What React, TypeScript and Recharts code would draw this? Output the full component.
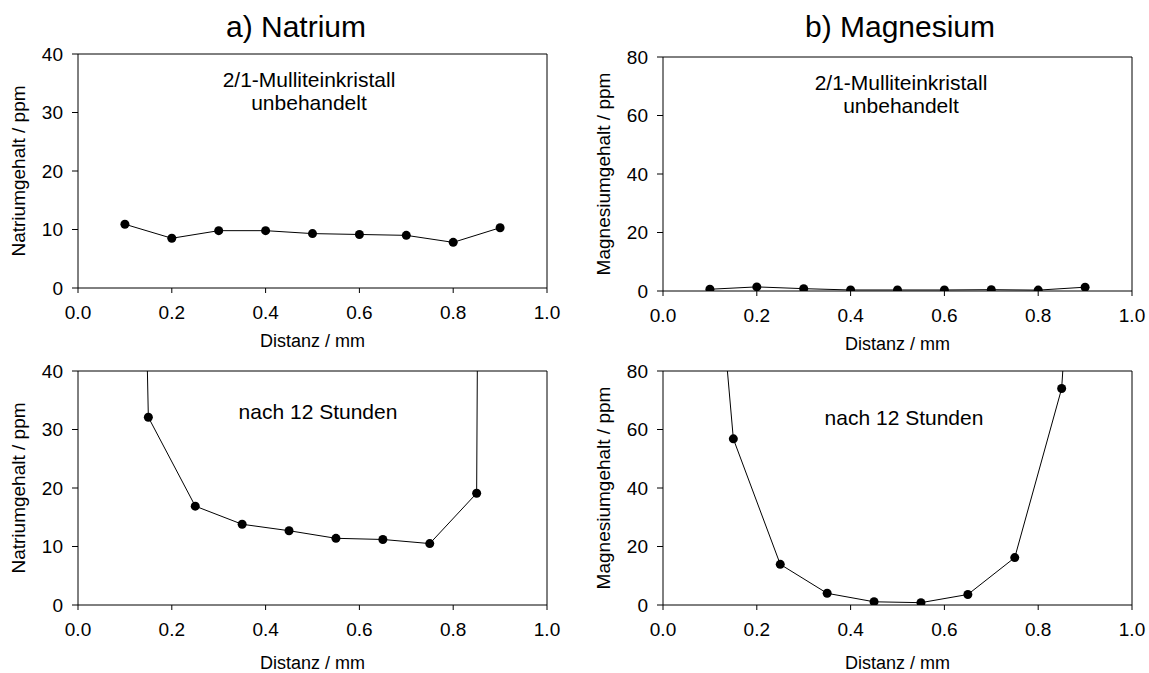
import React from 'react';
import { LineChart, Line, XAxis, YAxis, ReferenceLine } from 'recharts';

// Messpunkte (Distanz in mm)
const distTop = [0.1, 0.2, 0.3, 0.4, 0.5, 0.6, 0.7, 0.8, 0.9];
const natriumTop = [10.9, 8.5, 9.8, 9.8, 9.3, 9.15, 9.0, 7.8, 10.3];
const magnesiumTop = [0.6, 1.4, 0.8, 0.35, 0.35, 0.35, 0.45, 0.3, 1.3];

// nach 12 Stunden – Randwerte liegen weit über der Skala
const distBottom = [0.05, 0.15, 0.25, 0.35, 0.45, 0.55, 0.65, 0.75, 0.85, 0.95];
const natriumBottom = [420, 32.1, 16.9, 13.8, 12.7, 11.4, 11.2, 10.5, 19.1, 1500];
const magnesiumBottom = [240, 56.8, 13.9, 4.0, 1.1, 0.8, 3.6, 16.2, 74, 320];

const xTicks = [0, 0.2, 0.4, 0.6, 0.8, 1.0];
const naTicks = [0, 10, 20, 30, 40];
const mgTicks = [0, 20, 40, 60, 80];

const FONT = '"Liberation Sans", Arial, Helvetica, sans-serif';

// Platz um die Plotfläche innerhalb eines Diagramms
const LEFT = 78;
const TOP = 50;
const BOTTOM = 70;
const RIGHT = 20;
const Y_AXIS_W = 64;

interface PanelProps {
  px: number;
  py: number;
  pw: number;
  ph: number;
  xs: number[];
  ys: number[];
  yTicks: number[];
  yLabel: string;
  labelGap: number;
}

const Panel: React.FC<PanelProps> = ({ px, py, pw, ph, xs, ys, yTicks, yLabel, labelGap }) => {
  const data = xs.map((x, i) => ({ x, y: ys[i] }));
  const w = LEFT + pw + RIGHT;
  const h = TOP + ph + BOTTOM;
  const yMax = yTicks[yTicks.length - 1];

  return (
    <div style={{ position: 'absolute', left: px - LEFT, top: py - TOP, width: w, height: h }}>
      <LineChart
        width={w}
        height={h}
        data={data}
        margin={{ top: TOP, right: RIGHT, left: LEFT - Y_AXIS_W, bottom: 0 }}
      >
        <XAxis
          dataKey="x"
          type="number"
          domain={[0, 1]}
          ticks={xTicks}
          tickFormatter={(v: number) => v.toFixed(1)}
          allowDataOverflow
          height={BOTTOM}
          tickSize={5}
          tickMargin={13}
          stroke="#000"
          tick={{ fill: '#000', fontSize: 19 }}
          label={{
            value: 'Distanz / mm',
            position: 'insideBottom',
            offset: BOTTOM - labelGap - 6.5,
            fill: '#000',
            fontSize: 18,
          }}
        />
        <YAxis
          type="number"
          domain={[0, yMax]}
          ticks={yTicks}
          allowDataOverflow
          width={Y_AXIS_W}
          tickSize={6}
          tickMargin={9}
          stroke="#000"
          tick={{ fill: '#000', fontSize: 19 }}
          label={{
            value: yLabel,
            angle: -90,
            position: 'insideLeft',
            offset: 4,
            fill: '#000',
            fontSize: 19,
            style: { textAnchor: 'middle' },
          }}
        />
        <ReferenceLine y={yMax} stroke="#000" />
        <ReferenceLine x={1} stroke="#000" />
        <Line
          dataKey="y"
          stroke="#000"
          strokeWidth={1}
          dot={{ r: 4.5, fill: '#000', stroke: 'none' }}
          isAnimationActive={false}
        />
      </LineChart>
    </div>
  );
};

const Txt: React.FC<{ x: number; y: number; size: number; lh?: number; children: React.ReactNode }> = ({
  x,
  y,
  size,
  lh,
  children,
}) => (
  <div
    style={{
      position: 'absolute',
      left: x,
      top: y,
      transform: 'translate(-50%, -50%)',
      fontSize: size,
      lineHeight: lh ? `${lh}px` : 1,
      whiteSpace: 'nowrap',
      textAlign: 'center',
      color: '#000',
    }}
  >
    {children}
  </div>
);

export default function App() {
  return (
    <div
      style={{
        position: 'absolute',
        left: 0,
        top: 0,
        width: 1149,
        height: 673,
        overflow: 'hidden',
        background: '#fff',
        fontFamily: FONT,
      }}
    >
      <Txt x={296} y={27} size={30}>a) Natrium</Txt>
      <Txt x={900} y={27} size={30}>b) Magnesium</Txt>

      <Panel px={78} py={54} pw={469} ph={234} xs={distTop} ys={natriumTop} yTicks={naTicks}
        yLabel="Natriumgehalt / ppm" labelGap={52} />
      <Panel px={663} py={57} pw={469} ph={234} xs={distTop} ys={magnesiumTop} yTicks={mgTicks}
        yLabel="Magnesiumgehalt / ppm" labelGap={52} />
      <Panel px={78} py={371} pw={469} ph={234} xs={distBottom} ys={natriumBottom} yTicks={naTicks}
        yLabel="Natriumgehalt / ppm" labelGap={57} />
      <Panel px={663} py={371} pw={469} ph={234} xs={distBottom} ys={magnesiumBottom} yTicks={mgTicks}
        yLabel="Magnesiumgehalt / ppm" labelGap={57} />

      <Txt x={309} y={91} size={21} lh={23}>2/1-Mulliteinkristall<br />unbehandelt</Txt>
      <Txt x={901} y={94} size={21} lh={23}>2/1-Mulliteinkristall<br />unbehandelt</Txt>
      <Txt x={318} y={411} size={21}>nach 12 Stunden</Txt>
      <Txt x={904} y={417} size={21}>nach 12 Stunden</Txt>
    </div>
  );
}
